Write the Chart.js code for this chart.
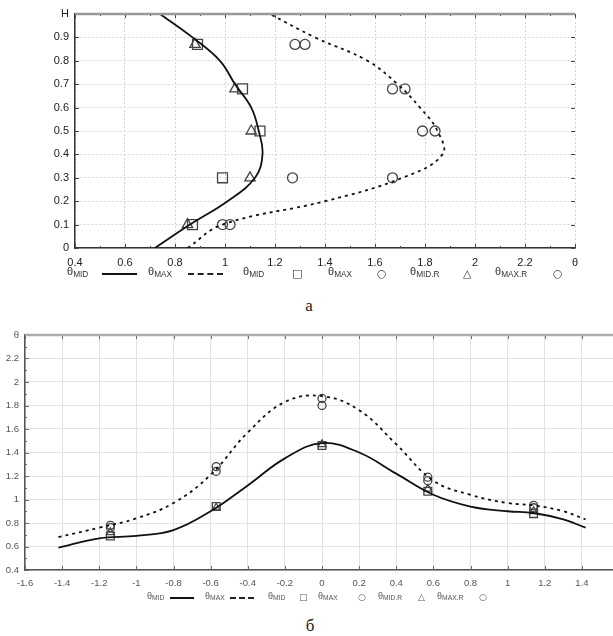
<!DOCTYPE html>
<html>
<head>
<meta charset="utf-8">
<script src="https://cdn.jsdelivr.net/npm/chart.js@4"></script>
<style>
  html, body { margin: 0; padding: 0; background: #fff; overflow: hidden; }
  body { width: 613px; height: 636px; position: relative; font-family: "Liberation Sans", Arial, sans-serif; }
  canvas { position: absolute; left: 0; }
  .lg { position: absolute; transform: translateY(-50%); white-space: nowrap; line-height: 1; }
  .lg sub { font-size: 75%; vertical-align: -0.25em; }
  .la { font-size: 11px; color: #333; }
  .lb { font-size: 9px; color: #555; }
  .ln { position: absolute; height: 0; }
  .cap { position: absolute; font-family: "Liberation Serif", "DejaVu Serif", serif; font-size: 17px; color: #222; transform: translate(-50%, -50%); }
</style>
</head>
<body>
<canvas id="chartA" width="613" height="270" style="top:0"></canvas>
<canvas id="chartB" width="640" height="275" style="top:320px"></canvas>
<div id="legends"></div>
<div class="cap" style="left:309px; top:306px">а</div>
<div class="cap" style="left:310px; top:626px">б</div>
<script>
// --- chart а: theta (x) against relative height H (y) ---
const hLine = [0, 0.1, 0.2, 0.3, 0.4, 0.5, 0.6, 0.7, 0.8, 0.9, 1.0];
const thetaMidLineA = [0.72, 0.86, 1.01, 1.12, 1.15, 1.135, 1.105, 1.04, 0.98, 0.87, 0.74];
const thetaMaxLineA = [0.85, 0.99, 1.40, 1.71, 1.87, 1.85, 1.78, 1.69, 1.57, 1.36, 1.18];

const hMarks = [0.1, 0.3, 0.5, 0.68, 0.87];
const thetaMidA = [0.87, 0.99, 1.14, 1.07, 0.89];
const thetaMaxA = [0.99, 1.27, 1.79, 1.67, 1.28];
const thetaMidRA = [0.85, 1.10, 1.105, 1.04, 0.88];
const thetaMaxRA = [1.02, 1.67, 1.84, 1.72, 1.32];

// --- chart б: theta (y) against coordinate (x) ---
const xLine = [-1.42, -1.2, -1.0, -0.8, -0.6, -0.4, -0.2, 0, 0.2, 0.4, 0.6, 0.8, 1.0, 1.14, 1.3, 1.42];
const thetaMidLineB = [0.59, 0.67, 0.69, 0.74, 0.90, 1.12, 1.35, 1.48, 1.40, 1.22, 1.04, 0.94, 0.90, 0.885, 0.83, 0.76];
const thetaMaxLineB = [0.68, 0.76, 0.84, 0.97, 1.21, 1.57, 1.83, 1.88, 1.76, 1.47, 1.16, 1.04, 0.97, 0.95, 0.90, 0.83];

const xMarks = [-1.14, -0.57, 0, 0.57, 1.14];
const thetaMidB = [0.69, 0.94, 1.46, 1.07, 0.88];
const thetaMaxB = [0.76, 1.24, 1.80, 1.16, 0.93];
const thetaMidRB = [0.72, 0.93, 1.47, 1.09, 0.90];
const thetaMaxRB = [0.78, 1.28, 1.86, 1.19, 0.95];

const isStep = (v, step) => Math.abs(v / step - Math.round(v / step)) < 1e-6;
const fmt = v => String(Math.round(v * 10) / 10);

// frame: thick grey top edge and small inward ticks on all sides
const frame = {
  id: 'frame',
  afterDraw(chart, args, o) {
    const { ctx, chartArea: a, scales: { x, y } } = chart;
    ctx.save();
    ctx.strokeStyle = o.tickColor;
    ctx.lineWidth = 1;
    ctx.beginPath();
    x.ticks.forEach(t => {
      const px = Math.round(x.getPixelForValue(t.value)) + 0.5;
      const len = isStep(t.value, o.xMajor) ? 4 : 2;
      ctx.moveTo(px, a.bottom); ctx.lineTo(px, a.bottom - len);
      ctx.moveTo(px, a.top); ctx.lineTo(px, a.top + len);
    });
    y.ticks.forEach(t => {
      const py = Math.round(y.getPixelForValue(t.value)) + 0.5;
      const len = isStep(t.value, o.yMajor) ? 4 : 2;
      ctx.moveTo(a.left, py); ctx.lineTo(a.left + len, py);
      ctx.moveTo(a.right, py); ctx.lineTo(a.right - len, py);
    });
    ctx.stroke();
    ctx.strokeStyle = o.topColor;
    ctx.lineWidth = o.topWidth;
    ctx.beginPath();
    ctx.moveTo(a.left, a.top); ctx.lineTo(a.right, a.top);
    ctx.stroke();
    ctx.restore();
  }
};

const pts = (xs, ys) => xs.map((v, i) => ({ x: v, y: ys[i] }));

function lineSet(data, dash) {
  return {
    data, showLine: true, pointRadius: 0, tension: 0.4,
    borderColor: '#111', borderWidth: 1.8, borderDash: dash, fill: false
  };
}
function markSet(data, style, r) {
  return {
    data, showLine: false, pointStyle: style, pointRadius: r,
    pointBorderColor: '#444', pointBackgroundColor: 'rgba(0,0,0,0)', pointBorderWidth: 1.3
  };
}

new Chart(document.getElementById('chartA'), {
  type: 'scatter',
  data: {
    datasets: [
      lineSet(pts(thetaMidLineA, hLine), []),
      lineSet(pts(thetaMaxLineA, hLine), [3, 4]),
      markSet(pts(thetaMidA, hMarks), 'rect', 7),
      markSet(pts(thetaMaxA, hMarks), 'circle', 5),
      markSet(pts(thetaMidRA, hMarks), 'triangle', 6),
      markSet(pts(thetaMaxRA, hMarks), 'circle', 5)
    ]
  },
  options: {
    responsive: false, animation: false,
    layout: { padding: { top: 14, right: 38, left: 0, bottom: 0 } },
    plugins: {
      legend: { display: false }, tooltip: { enabled: false },
      frame: { tickColor: '#444', topColor: '#999', topWidth: 2.5, xMajor: 0.2, yMajor: 0.1 }
    },
    scales: {
      x: {
        type: 'linear', min: 0.4, max: 2.4,
        afterFit: s => { s.height = 22; },
        ticks: {
          stepSize: 0.1, autoSkip: false, maxRotation: 0, padding: 8,
          color: '#222', font: { family: 'Liberation Sans', size: 11 },
          callback: v => isStep(v, 0.2) ? (Math.abs(v - 2.4) < 1e-6 ? 'θ' : fmt(v)) : ''
        },
        grid: {
          drawTicks: false,
          color: c => isStep(c.tick.value, 0.2) ? '#d4d4d4' : 'rgba(0,0,0,0)'
        },
        border: { color: '#333', width: 1.5, dash: [2, 2] }
      },
      y: {
        type: 'linear', min: 0, max: 1,
        afterFit: s => { s.width = 75; },
        ticks: {
          stepSize: 0.1, autoSkip: false, padding: 6,
          color: '#222', font: { family: 'Liberation Sans', size: 11 },
          callback: v => Math.abs(v - 1) < 1e-6 ? 'H' : fmt(v)
        },
        grid: { drawTicks: false, color: '#d4d4d4' },
        border: { color: '#333', width: 1.5, dash: [2, 2] }
      }
    }
  },
  plugins: [frame]
});

new Chart(document.getElementById('chartB'), {
  type: 'scatter',
  data: {
    datasets: [
      lineSet(pts(xLine, thetaMidLineB), []),
      lineSet(pts(xLine, thetaMaxLineB), [3, 4]),
      markSet(pts(xMarks, thetaMidB), 'rect', 5.5),
      markSet(pts(xMarks, thetaMaxB), 'circle', 4),
      markSet(pts(xMarks, thetaMidRB), 'triangle', 4.5),
      markSet(pts(xMarks, thetaMaxRB), 'circle', 4)
    ]
  },
  options: {
    responsive: false, animation: false,
    layout: { padding: { top: 15, right: 21, left: 0, bottom: 0 } },
    plugins: {
      legend: { display: false }, tooltip: { enabled: false },
      frame: { tickColor: '#666', topColor: '#aaa', topWidth: 2.5, xMajor: 0.2, yMajor: 0.2 }
    },
    scales: {
      x: {
        type: 'linear', min: -1.6, max: 1.6,
        afterFit: s => { s.height = 25; },
        ticks: {
          stepSize: 0.2, autoSkip: false, maxRotation: 0, padding: 8,
          color: '#555', font: { family: 'Liberation Sans', size: 9.5 },
          callback: v => Math.abs(v - 1.6) < 1e-6 ? 'θ' : fmt(v)
        },
        grid: { drawTicks: false, color: '#e2e2e2' },
        border: { color: '#555', width: 1.5 }
      },
      y: {
        type: 'linear', min: 0.4, max: 2.4,
        afterFit: s => { s.width = 25; },
        ticks: {
          stepSize: 0.1, autoSkip: false, padding: 6,
          color: '#555', font: { family: 'Liberation Sans', size: 9.5 },
          callback: v => isStep(v, 0.2) ? (Math.abs(v - 2.4) < 1e-6 ? 'θ' : fmt(v)) : ''
        },
        grid: {
          drawTicks: false,
          color: c => isStep(c.tick.value, 0.2) ? '#e2e2e2' : 'rgba(0,0,0,0)'
        },
        border: { color: '#555', width: 1.5 }
      }
    }
  },
  plugins: [frame]
});

// legends below each plot (text first, symbol after, as in the source figure)
const legendItems = [
  ['text', 'MID'], ['solid'], ['text', 'MAX'], ['dash'], ['text', 'MID'], ['sym', '□'],
  ['text', 'MAX'], ['sym', '○'], ['text', 'MID.R'], ['sym', '△'], ['text', 'MAX.R'], ['sym', '○']
];
const legendA = { cls: 'la', y: 273, xs: [67, 102, 148, 188, 243, 292, 328, 377, 410, 463, 495, 553], lineW: 35 };
const legendB = { cls: 'lb', y: 597, xs: [147, 170, 205, 230, 268, 299, 318, 358, 378, 418, 437, 479], lineW: 24 };

const host = document.getElementById('legends');
[legendA, legendB].forEach(L => {
  legendItems.forEach((it, i) => {
    const x = L.xs[i];
    if (it[0] === 'solid' || it[0] === 'dash') {
      const d = document.createElement('div');
      d.className = 'ln';
      d.style.left = x + 'px';
      d.style.top = L.y + 'px';
      d.style.width = L.lineW + 'px';
      d.style.borderTop = it[0] === 'solid' ? '2px solid #111' : '2px dashed #222';
      host.appendChild(d);
      return;
    }
    const s = document.createElement('div');
    s.className = 'lg ' + L.cls;
    s.style.left = x + 'px';
    s.style.top = L.y + 'px';
    if (it[0] === 'text') s.innerHTML = 'θ<sub>' + it[1] + '</sub>';
    else { s.textContent = it[1]; s.style.fontFamily = 'DejaVu Sans'; }
    host.appendChild(s);
  });
});
</script>
</body>
</html>
